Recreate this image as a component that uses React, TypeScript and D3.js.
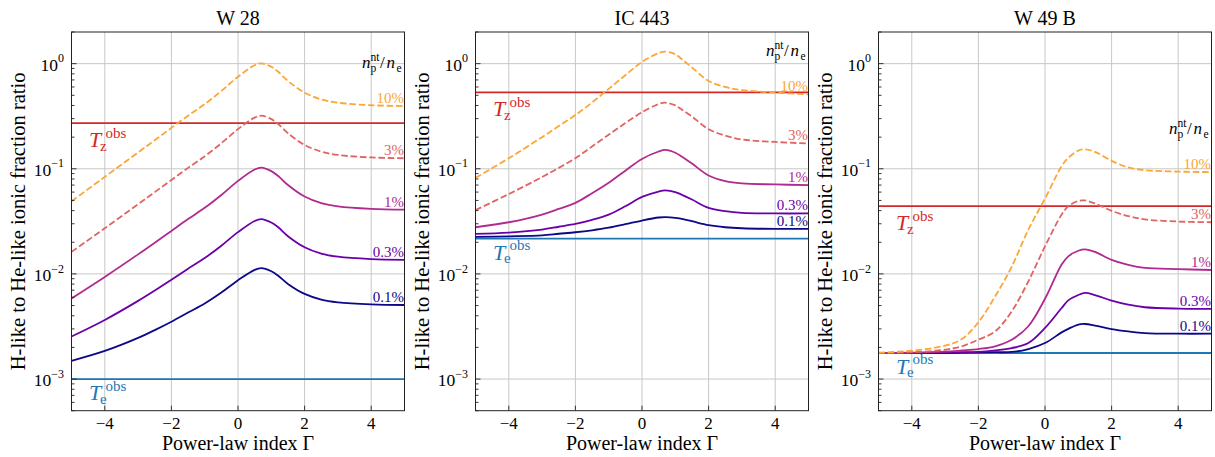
import React from 'react';
import * as d3 from 'd3';

// Power-law index grid (x values)
const GAMMA = [-5, -4, -3, -2.5, -2, -1.5, -1, -0.5, 0, 0.5, 0.7, 1, 1.2, 1.5, 2, 2.5, 3, 4, 5];

const FRACTIONS = ['10%', '3%', '1%', '0.3%', '0.1%'];
const TITLES = ['W 28', 'IC 443', 'W 49 B'];

// W 28
const W28_10 = [0.049, 0.0838, 0.143, 0.187, 0.245, 0.32, 0.412, 0.5495, 0.75, 0.966, 1.007, 0.933, 0.841, 0.684, 0.53, 0.457, 0.425, 0.402, 0.395];
const W28_3 = [0.0162, 0.0272, 0.046, 0.06, 0.0783, 0.102, 0.1313, 0.175, 0.2384, 0.307, 0.32, 0.2964, 0.2673, 0.2175, 0.1687, 0.1456, 0.1354, 0.1281, 0.1259];
const W28_1 = [0.00585, 0.00936, 0.01534, 0.01979, 0.02564, 0.03322, 0.04251, 0.0564, 0.0767, 0.0985, 0.1026, 0.0951, 0.0858, 0.07, 0.0544, 0.0471, 0.0438, 0.0415, 0.0408];
const W28_03 = [0.00254, 0.00365, 0.00554, 0.00695, 0.00881, 0.01121, 0.01415, 0.01855, 0.02497, 0.03188, 0.0332, 0.0308, 0.0279, 0.02286, 0.01793, 0.01559, 0.01457, 0.01383, 0.01361];
const W28_01 = [0.00149, 0.00185, 0.00246, 0.00292, 0.00351, 0.00429, 0.00523, 0.00665, 0.00871, 0.01094, 0.01136, 0.0106, 0.00965, 0.00803, 0.00645, 0.0057, 0.00537, 0.00513, 0.00506];
const W28_TZ = 0.272;
const W28_TE = 0.001;

// IC 443
const IC443_10 = [0.082, 0.126, 0.2, 0.255, 0.324, 0.427, 0.575, 0.776, 1.04, 1.26, 1.3, 1.23, 1.1, 0.92, 0.684, 0.6, 0.561, 0.53, 0.51];
const IC443_3 = [0.0404, 0.0575, 0.0835, 0.102, 0.126, 0.163, 0.211, 0.272, 0.345, 0.413, 0.425, 0.401, 0.365, 0.314, 0.238, 0.207, 0.19, 0.18, 0.174];
const IC443_1 = [0.0278, 0.031, 0.0367, 0.0415, 0.0474, 0.0585, 0.0736, 0.096, 0.124, 0.146, 0.151, 0.142, 0.13, 0.112, 0.0864, 0.0763, 0.0725, 0.071, 0.0699];
const IC443_03 = [0.024, 0.0247, 0.0264, 0.0281, 0.0299, 0.0327, 0.0367, 0.044, 0.054, 0.0608, 0.0622, 0.0601, 0.0565, 0.051, 0.0425, 0.0395, 0.0381, 0.0376, 0.0376];
const IC443_01 = [0.0225, 0.0228, 0.0233, 0.0241, 0.0249, 0.026, 0.0275, 0.0297, 0.0322, 0.0344, 0.0347, 0.0342, 0.0333, 0.0317, 0.0291, 0.0278, 0.0272, 0.0268, 0.0268];
const IC443_TZ = 0.533;
const IC443_TE = 0.0217;

// W 49 B
const W49B_10 = [0.00178, 0.00186, 0.00208, 0.0024, 0.00347, 0.0061, 0.0117, 0.0264, 0.052, 0.106, 0.127, 0.149, 0.153, 0.145, 0.119, 0.103, 0.097, 0.094, 0.093];
const W49B_3 = [0.00177, 0.0018, 0.0019, 0.00205, 0.00237, 0.00284, 0.0044, 0.0085, 0.0183, 0.0367, 0.044, 0.0495, 0.05, 0.0468, 0.0398, 0.0355, 0.033, 0.0315, 0.031];
const W49B_1 = [0.00177, 0.00178, 0.00182, 0.00187, 0.00193, 0.00205, 0.00237, 0.00318, 0.0058, 0.0123, 0.0147, 0.0166, 0.0171, 0.0162, 0.0136, 0.0122, 0.0114, 0.0111, 0.0109];
const W49B_03 = [0.00177, 0.00177, 0.00179, 0.0018, 0.00181, 0.00187, 0.00197, 0.0022, 0.00306, 0.00474, 0.0056, 0.0063, 0.0066, 0.0063, 0.00557, 0.0051, 0.00482, 0.00468, 0.00466];
const W49B_01 = [0.00177, 0.00177, 0.00177, 0.00178, 0.00179, 0.0018, 0.00181, 0.00193, 0.0022, 0.00278, 0.003, 0.0033, 0.00334, 0.00323, 0.00299, 0.00284, 0.00274, 0.0027, 0.0027];
const W49B_TZ = 0.0441;
const W49B_TE = 0.00177;

const X_TICKS = [-4, -2, 0, 2, 4];
const Y_MAJOR = [1e-3, 1e-2, 1e-1, 1];
const Y_MAJOR_LABELS = ['−3', '−2', '−1', '0'];

const CURVE_COLORS = ['#fca636', '#e16462', '#b12a90', '#6a00a8', '#0d0887'];
const DASHED = [true, true, false, false, false];
const TZ_COLOR = '#d62728';
const TE_COLOR = '#1f77b4';

const PANELS = [
  { title: TITLES[0], series: [W28_10, W28_3, W28_1, W28_03, W28_01], tz: W28_TZ, te: W28_TE, left: 71.5 },
  { title: TITLES[1], series: [IC443_10, IC443_3, IC443_1, IC443_03, IC443_01], tz: IC443_TZ, te: IC443_TE, left: 475.5 },
  { title: TITLES[2], series: [W49B_10, W49B_3, W49B_1, W49B_03, W49B_01], tz: W49B_TZ, te: W49B_TE, left: 878.5 },
];

const FONT = 'Liberation Serif, DejaVu Serif, Times New Roman, serif';
const TOP = 32;
const BOTTOM = 410.7;
const PW = 333;

function Panel({ p, idx }: { p: any; idx: number }) {
  const L = p.left;
  const R = L + PW;
  const x = d3.scaleLinear().domain([-5, 5]).range([L, R]);
  const y = d3.scaleLog().domain([5e-4, 2]).range([BOTTOM, TOP]);
  const line = d3
    .line<[number, number]>()
    .x((d) => x(d[0]))
    .y((d) => y(d[1]))
    .curve(d3.curveCatmullRom.alpha(0.5));

  const minor: number[] = [];
  for (let e = -4; e <= 0; e++) {
    for (let m = 2; m <= 9; m++) {
      const v = m * Math.pow(10, e);
      if (v >= 5e-4 && v <= 2) minor.push(v);
    }
  }
  const clipId = `clip${idx}`;
  const cx = (L + R) / 2;
  const cy = (TOP + BOTTOM) / 2;
  const lastY = (s: number[]) => y(s[s.length - 1]);
  const headerBase = lastY(p.series[0]) - 3 - 35;

  const TLabel = ({ v, sub, color, off }: { v: number; sub: string; color: string; off: number }) => {
    const x0 = L + 17.5;
    const b = y(v) + off;
    return (
      <g fill={color} style={{ fontFamily: FONT }}>
        <text x={x0} y={b} fontSize={22} fontStyle="italic">T</text>
        <text x={x0 + 11} y={b + 3.5} fontSize={15}>{sub}</text>
        <text x={x0 + 16.5} y={b - 9.5} fontSize={15}>obs</text>
      </g>
    );
  };

  return (
    <g style={{ fontFamily: FONT }}>
      <defs>
        <clipPath id={clipId}>
          <rect x={L} y={TOP} width={PW} height={BOTTOM - TOP} />
        </clipPath>
      </defs>
      {/* grid */}
      <g stroke="#c8c8c8" strokeWidth={1}>
        {X_TICKS.map((t) => (
          <line key={'gx' + t} x1={x(t)} x2={x(t)} y1={TOP} y2={BOTTOM} />
        ))}
        {Y_MAJOR.map((t) => (
          <line key={'gy' + t} x1={L} x2={R} y1={y(t)} y2={y(t)} />
        ))}
      </g>
      <g clipPath={`url(#${clipId})`}>
        <line x1={L} x2={R} y1={y(p.te)} y2={y(p.te)} stroke={TE_COLOR} strokeWidth={1.8} />
        <line x1={L} x2={R} y1={y(p.tz)} y2={y(p.tz)} stroke={TZ_COLOR} strokeWidth={1.8} />
        {p.series
          .map((s: number[], i: number) => ({ s, i }))
          .reverse()
          .map(({ s, i }: { s: number[]; i: number }) => (
            <path
              key={'c' + i}
              d={line(GAMMA.map((g, k) => [g, s[k]] as [number, number])) || ''}
              fill="none"
              stroke={CURVE_COLORS[i]}
              strokeWidth={1.8}
              strokeDasharray={DASHED[i] ? '6.5,2.8' : undefined}
            />
          ))}
      </g>
      {/* ticks */}
      <g stroke="#222" strokeWidth={0.9}>
        {X_TICKS.map((t) => (
          <line key={'tx' + t} x1={x(t)} x2={x(t)} y1={BOTTOM} y2={BOTTOM - 5} />
        ))}
        {Y_MAJOR.map((t) => (
          <line key={'ty' + t} x1={L} x2={L + 5} y1={y(t)} y2={y(t)} />
        ))}
        {minor.map((t) => (
          <line key={'tm' + t} x1={L} x2={L + 3} y1={y(t)} y2={y(t)} />
        ))}
      </g>
      <rect x={L} y={TOP} width={PW} height={BOTTOM - TOP} fill="none" stroke="#222" strokeWidth={1} />
      {/* tick labels */}
      <g fill="#000">
        {X_TICKS.map((t) => (
          <text key={'lx' + t} x={x(t)} y={428.5} fontSize={17} textAnchor="middle">
            {t < 0 ? '−' + Math.abs(t) : String(t)}
          </text>
        ))}
        {Y_MAJOR.map((t, i) => (
          <text key={'ly' + t} x={L - 7.5} y={y(t) + 7} fontSize={17.5} textAnchor="end">
            <tspan>10</tspan>
            <tspan dy={-8.4} fontSize={12}>{Y_MAJOR_LABELS[i]}</tspan>
          </text>
        ))}
      </g>
      {/* titles and axis labels */}
      <text x={cx} y={25} fontSize={20} textAnchor="middle">{p.title}</text>
      <text x={cx} y={450} fontSize={20} textAnchor="middle">Power-law index Γ</text>
      <text transform={`translate(${L - 46.5},${cy}) rotate(-90)`} fontSize={20.5} textAnchor="middle">
        H-like to He-like ionic fraction ratio
      </text>
      {/* obs labels */}
      <TLabel v={p.tz} sub="z" color={TZ_COLOR} off={24} />
      <TLabel v={p.te} sub="e" color={TE_COLOR} off={21} />
      {/* curve labels */}
      {p.series.map((s: number[], i: number) => (
        <text key={'cl' + i} x={R - 0.5} y={lastY(s) - 3} fontSize={15} textAnchor="end" fill={CURVE_COLORS[i]}>
          {FRACTIONS[i]}
        </text>
      ))}
      {/* header */}
      <g fill="#000">
        <text x={R - 42.5} y={headerBase} fontSize={17} fontStyle="italic">n</text>
        <text x={R - 34} y={headerBase - 7} fontSize={11.5}>nt</text>
        <text x={R - 34} y={headerBase + 4} fontSize={11.5}>p</text>
        <text x={R - 24.5} y={headerBase} fontSize={17}>/</text>
        <text x={R - 18} y={headerBase} fontSize={17} fontStyle="italic">n</text>
        <text x={R - 8} y={headerBase + 4} fontSize={11.5}>e</text>
      </g>
    </g>
  );
}

export default function App() {
  return (
    <svg width={1215} height={457} style={{ position: 'absolute', left: 0, top: 0, background: '#fff' }}>
      <rect x={0} y={0} width={1215} height={457} fill="#fff" />
      {PANELS.map((p, i) => (
        <Panel key={i} p={p} idx={i} />
      ))}
    </svg>
  );
}
